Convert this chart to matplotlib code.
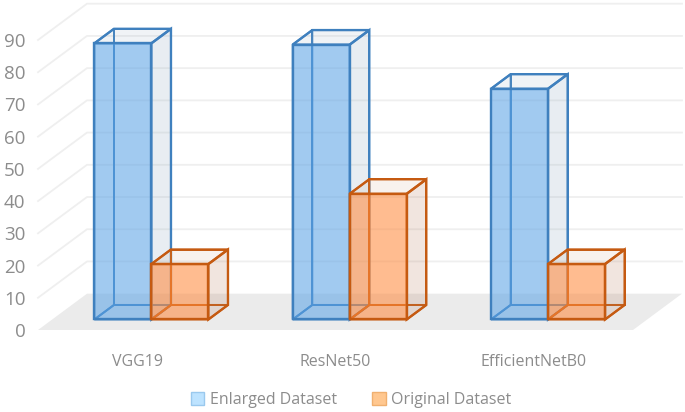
import numpy as np
import matplotlib.pyplot as plt
from matplotlib.patches import Polygon, Patch

plt.rcParams['font.family'] = ['Open Sans', 'DejaVu Sans']

categories = ['VGG19', 'ResNet50', 'EfficientNetB0']
enlarged = [85.7, 85.3, 71.6]
original = [17.2, 39.0, 17.2]
yticks = [0, 10, 20, 30, 40, 50, 60, 70, 80, 90]

# наклон глубины: сдвиг задней стенки в единицах осей
shear_x = 0.247
shear_y = 11.27
bar_w = 0.2874
depth_front = 0.29
depth_back = 0.69

blue_edge = '#3F80BE'
orange_edge = '#C55A11'
text_color = '#8C8C8C'


def proj(x, v, d):
    return (x + d * shear_x, v + d * shear_y)


def draw_bar(ax, x0, value, edge, front, side, top, z):
    x1 = x0 + bar_w
    df, db = depth_front, depth_back
    faces = [
        # задние грани
        ([proj(x0, 0, db), proj(x1, 0, db), proj(x1, value, db), proj(x0, value, db)], side, 0.0),
        ([proj(x0, 0, df), proj(x0, 0, db), proj(x0, value, db), proj(x0, value, df)], side, 0.0),
        ([proj(x0, 0, df), proj(x1, 0, df), proj(x1, 0, db), proj(x0, 0, db)], side, 0.0),
        # видимые грани
        ([proj(x1, 0, df), proj(x1, 0, db), proj(x1, value, db), proj(x1, value, df)], side, 0.2),
        ([proj(x0, value, df), proj(x1, value, df), proj(x1, value, db), proj(x0, value, db)], top, 0.13),
        ([proj(x0, 0, df), proj(x1, 0, df), proj(x1, value, df), proj(x0, value, df)], front, 0.57),
    ]
    for i, (pts, color, alpha) in enumerate(faces):
        ax.add_patch(Polygon(pts, closed=True, facecolor=(*plt.matplotlib.colors.to_rgb(color), alpha),
                             edgecolor=edge, linewidth=1.7 if i > 2 else 1.4,
                             joinstyle='miter', clip_on=False, zorder=z + i * 0.01))


fig = plt.figure(figsize=(6.85, 4.12), dpi=100)
ax = fig.add_axes([38 / 685, 1 - 330 / 412, 595 / 685, 290 / 412])
n = len(categories)
ax.set_xlim(0, n)
ax.set_ylim(0, 90)
for s in ax.spines.values():
    s.set_visible(False)

# пол и сетка
ax.add_patch(Polygon([proj(0, 0, 0), proj(n, 0, 0), proj(n, 0, 1), proj(0, 0, 1)],
                     facecolor='#EBEBEB', edgecolor='none', clip_on=False, zorder=1))
for v in yticks[1:]:
    xs = [proj(0, v, 0)[0], proj(0, v, 1)[0], proj(n, v, 1)[0]]
    ys = [proj(0, v, 0)[1], proj(0, v, 1)[1], proj(n, v, 1)[1]]
    ax.plot(xs, ys, color='#EFEFEF', lw=1.3, clip_on=False, zorder=1)

for i in range(n):
    x_left = i + 0.5 - bar_w
    draw_bar(ax, x_left, enlarged[i], blue_edge, '#5BA3E6', '#8FA9BF', '#8FA9BF', 3)
    draw_bar(ax, x_left + bar_w, original[i], orange_edge, '#FF8A3D', '#B98060', '#C9A080', 4)

ax.set_yticks(yticks)
ax.set_xticks(np.arange(n) + 0.5)
ax.set_xticklabels(categories)
ax.tick_params(axis='both', length=0, labelcolor=text_color)
ax.tick_params(axis='y', labelsize=13.5, pad=9)
ax.tick_params(axis='x', labelsize=11.5, pad=17)

handles = [Patch(facecolor='#BDE3FF', edgecolor='#9AC9EE', label='Enlarged Dataset'),
           Patch(facecolor='#FFC78F', edgecolor='#F0B070', label='Original Dataset')]
fig.legend(handles=handles, loc='center', bbox_to_anchor=(351 / 685, 1 - 400 / 412), ncol=2,
           frameon=False, fontsize=11.5, labelcolor=text_color, handlelength=0.85, handleheight=0.85,
           handletextpad=0.35, columnspacing=2.2, borderpad=0)

fig.savefig('out.png', dpi=100)
